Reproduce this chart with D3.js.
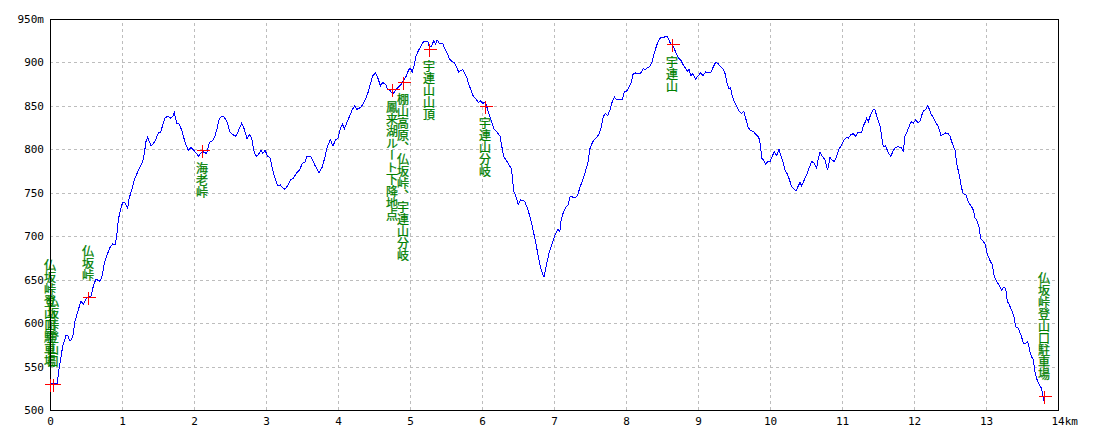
<!DOCTYPE html>
<html>
<head>
<meta charset="utf-8">
<script src="https://cdn.jsdelivr.net/npm/d3@7/dist/d3.min.js"></script>
<style>
body{margin:0;background:#fff;}
svg{display:block;}
</style>
</head>
<body>
<script>
// profile: distance (km) / elevation (m)
var distKm=[0,0.10,0.13,0.176,0.222,0.245,0.278,0.315,0.347,0.384,0.43,0.468,0.509,0.57,0.60,0.639,0.685,0.718,0.755,0.80,
0.838,0.87,0.907,0.93,0.949,0.977,1.009,1.04,1.079,1.10,1.139,1.171,1.208,1.25,1.287,1.31,1.333,1.356,1.38,1.403,
1.44,1.472,1.505,1.54,1.565,1.597,1.634,1.671,1.704,1.727,1.76,1.796,1.829,1.856,1.889,1.92,1.958,1.995,2.028,2.06,
2.10,2.134,2.176,2.213,2.26,2.29,2.32,2.35,2.384,2.42,2.458,2.50,2.537,2.583,2.62,2.662,2.70,2.736,2.768,2.80,
2.83,2.861,2.894,2.93,2.954,2.986,3.023,3.06,3.093,3.125,3.162,3.20,3.23,3.264,3.30,3.34,3.384,3.417,3.463,3.506,
3.538,3.57,3.63,3.677,3.737,3.783,3.815,3.848,3.894,3.93,3.968,4.00,4.03,4.06,4.09,4.125,4.16,4.20,4.23,4.263,
4.31,4.346,4.383,4.416,4.448,4.485,4.522,4.554,4.59,4.62,4.66,4.69,4.725,4.76,4.79,4.83,4.877,4.91,4.947,4.984,
5.007,5.03,5.062,5.085,5.12,5.155,5.187,5.247,5.27,5.30,5.33,5.353,5.376,5.409,5.455,5.487,5.515,5.547,5.584,5.617,
5.649,5.677,5.732,5.755,5.788,5.815,5.848,5.88,5.917,5.95,5.977,6.01,6.046,6.078,6.125,6.17,6.217,6.25,6.30,6.364,
6.41,6.44,6.48,6.502,6.535,6.594,6.64,6.677,6.71,6.742,6.78,6.81,6.84,6.862,6.894,6.93,6.97,7.01,7.055,7.08,
7.10,7.124,7.16,7.194,7.226,7.263,7.30,7.33,7.364,7.40,7.438,7.47,7.502,7.54,7.585,7.622,7.654,7.687,7.714,7.747,
7.78,7.806,7.84,7.87,7.917,7.954,7.977,8.01,8.037,8.07,8.10,8.138,8.175,8.207,8.24,8.267,8.30,8.33,8.36,8.39,
8.424,8.45,8.484,8.516,8.544,8.576,8.60,8.622,8.654,8.69,8.728,8.76,8.79,8.82,8.85,8.876,8.90,8.93,8.968,9.005,
9.037,9.07,9.106,9.143,9.175,9.207,9.244,9.276,9.313,9.345,9.373,9.405,9.429,9.452,9.475,9.50,9.53,9.567,9.604,9.636,
9.668,9.696,9.728,9.774,9.806,9.843,9.866,9.884,9.907,9.94,9.968,10.0,10.03,10.06,10.093,10.125,10.153,10.185,10.208,10.245,
10.278,10.30,10.338,10.36,10.394,10.417,10.44,10.472,10.51,10.54,10.58,10.616,10.648,10.67,10.694,10.727,10.764,10.80,10.82,10.833,
10.856,10.894,10.926,10.958,10.995,11.03,11.065,11.088,11.125,11.157,11.19,11.218,11.273,11.296,11.32,11.343,11.366,11.39,11.41,11.435,
11.46,11.48,11.505,11.528,11.55,11.574,11.606,11.634,11.653,11.68,11.713,11.745,11.782,11.82,11.852,11.875,11.907,11.944,11.968,11.99,
12.023,12.05,12.083,12.106,12.13,12.162,12.19,12.208,12.236,12.27,12.30,12.338,12.375,12.407,12.44,12.477,12.50,12.523,12.546,12.57,
12.593,12.616,12.64,12.662,12.685,12.718,12.755,12.80,12.824,12.847,12.87,12.903,12.926,12.963,12.986,13.023,13.056,13.088,13.111,13.148,
13.18,13.218,13.24,13.273,13.296,13.324,13.356,13.39,13.412,13.45,13.486,13.52,13.55,13.58,13.61,13.634,13.657,13.68,13.704,13.727,
13.764,13.782,13.80];
var elevM=[531,531,550,573,586,586,579,584,602,613,625,622,629,631,642,651,648,652,669,680,
688,691,690,703,719,730,739,739,732,744,754,765,772,780,786,795,809,814,809,804,
807,812,819,820,828,836,838,836,838,842,830,829,822,814,805,799,802,799,796,792,
796,797,795,808,810,815,824,835,838,837,832,820,817,815,822,830,823,812,817,813,
799,792,794,799,795,799,792,790,776,767,758,759,756,754,758,765,767,772,776,784,
785,792,791,782,773,780,790,802,811,804,811,813,823,829,824,831,838,846,850,846,
848,852,858,865,875,885,888,882,873,877,875,869,868,863,867,871,875,879,884,892,
893,889,898,908,914,919,924,924,917,919,925,921,926,922,922,915,911,904,901,900,
894,889,892,888,883,875,868,861,858,854,856,853,854,846,834,823,819,815,792,784,
777,752,744,736,742,740,730,719,707,694,678,665,657,653,667,680,690,701,708,705,
719,726,733,736,746,745,744,748,757,765,775,784,802,809,813,817,825,838,841,839,
846,854,860,857,857,858,867,867,871,876,887,888,887,888,893,892,894,895,900,910,
919,925,929,928,930,930,925,921,919,912,905,903,898,894,890,892,885,887,881,885,
888,885,889,888,888,894,900,899,895,893,888,876,870,871,861,856,851,844,841,844,
834,825,822,820,817,814,806,790,788,783,786,786,792,797,793,800,792,784,776,771,
763,757,754,752,758,762,758,764,771,778,786,784,778,789,797,792,788,776,784,791,
788,786,792,800,805,811,814,813,817,818,815,819,819,827,831,836,832,838,842,846,
845,839,832,827,815,803,804,798,795,792,799,802,803,802,798,815,821,829,832,830,
834,831,832,839,844,846,850,847,841,836,831,826,816,817,819,818,815,809,804,799,
784,775,765,755,749,748,739,734,730,721,719,711,697,694,691,678,672,667,655,648,
644,638,641,640,625,621,615,607,596,594,586,577,577,579,567,561,558,544,536,531,
526,521,510];

// marked waypoints
var pointNames=['仏坂峠登山口駐車場','仏坂峠登山口','仏坂峠','海老峠','鳳来湖ルート下降地点','棚山高原、仏坂峠、宇連山分岐','宇連山山頂','宇連山分岐','宇連山','仏坂峠登山口駐車場'];
var pointKm=[0,0.045,0.523,2.116,4.754,4.898,5.264,6.042,8.634,13.805];
var pointElev=[530,530,630,799,869,878,916,850,921,516];

var xTickValues=[0,1,2,3,4,5,6,7,8,9,10,11,12,13,14];
var xTickLabels=['0','1','2','3','4','5','6','7','8','9','10','11','12','13','14km'];
var yTickValues=[500,550,600,650,700,750,800,850,900,950];
var yTickLabels=['500','550','600','650','700','750','800','850','900','950m'];

var W=1100,H=440;
var plotL=50,plotR=1058,plotT=19,plotB=410;
var axisFont='"DejaVu Sans Mono",monospace';
var labelFont='"Noto Sans CJK JP",sans-serif';

var x=d3.scaleLinear().domain([0,14]).range([plotL,plotR]);
var y=d3.scaleLinear().domain([500,950]).range([plotB,plotT]);

var svg=d3.select('body').append('svg').attr('width',W).attr('height',H);
svg.append('rect').attr('width',W).attr('height',H).attr('fill','#fff');

// dashed grid
var gridX=svg.append('g').attr('transform','translate(0,'+plotB+')')
    .call(d3.axisBottom(x).tickValues(xTickValues.slice(1,-1)).tickSize(-(plotB-plotT)).tickFormat(''));
var gridY=svg.append('g').attr('transform','translate('+plotL+',0)')
    .call(d3.axisLeft(y).tickValues(yTickValues.slice(1,-1)).tickSize(-(plotR-plotL)).tickFormat(''));
[gridX,gridY].forEach(function(g){
    g.select('.domain').remove();
    g.selectAll('line').attr('stroke','#bdbdbd').attr('stroke-dasharray','3,3').attr('shape-rendering','crispEdges');
});

// tick labels
var xAxis=svg.append('g').attr('transform','translate(0,'+plotB+')')
    .call(d3.axisBottom(x).tickValues(xTickValues).tickSize(0).tickPadding(7)
        .tickFormat(function(d,i){return xTickLabels[i];}));
var yAxis=svg.append('g').attr('transform','translate('+plotL+',0)')
    .call(d3.axisLeft(y).tickValues(yTickValues).tickSize(0).tickPadding(6)
        .tickFormat(function(d,i){return yTickLabels[i];}));
[xAxis,yAxis].forEach(function(g){
    g.select('.domain').remove();
    g.attr('font-family',axisFont).attr('font-size',11);
    g.selectAll('text').attr('fill','#000');
});
// "14km": keep the number on the tick, unit runs to the right
xAxis.selectAll('.tick').filter(function(d){return d==14;}).select('text')
    .attr('text-anchor','start').attr('x',-7);

// profile line
var line=d3.line()
    .x(function(i){return x(distKm[i]);})
    .y(function(i){return y(elevM[i]);});
svg.append('path')
    .datum(d3.range(distKm.length))
    .attr('d',line)
    .attr('fill','none')
    .attr('stroke','#0000ff')
    .attr('stroke-width',1)
    .attr('shape-rendering','crispEdges');

// waypoint names, vertical; low points get the name above
var labels=svg.append('g')
    .attr('font-family',labelFont)
    .attr('font-size',12)
    .attr('fill','#008000')
    .attr('stroke','#008000')
    .attr('stroke-width',0.25);
labels.selectAll('text')
    .data(d3.range(pointNames.length))
    .enter()
    .append('text')
    .attr('x',function(i){return Math.round(x(pointKm[i]));})
    .attr('y',function(i){
        var py=y(pointElev[i]);
        return pointElev[i]<700?py-16:py+12;
    })
    .attr('text-anchor',function(i){return pointElev[i]<700?'end':'start';})
    .style('writing-mode','vertical-rl')
    .text(function(i){return pointNames[i];});

// frame
svg.append('rect')
    .attr('x',plotL+0.5).attr('y',plotT+0.5)
    .attr('width',plotR-plotL).attr('height',plotB-plotT)
    .attr('fill','none').attr('stroke','#000').attr('shape-rendering','crispEdges');

// red markers
svg.append('g').selectAll('path')
    .data(d3.range(pointNames.length))
    .enter()
    .append('path')
    .attr('transform',function(i){
        return 'translate('+(Math.round(x(pointKm[i]))+0.5)+','+(Math.round(y(pointElev[i]))+0.5)+')';
    })
    .attr('d','M-6,0H7M0,-6V7')
    .attr('stroke','#ff0000')
    .attr('fill','none')
    .attr('shape-rendering','crispEdges');
</script>
</body>
</html>
